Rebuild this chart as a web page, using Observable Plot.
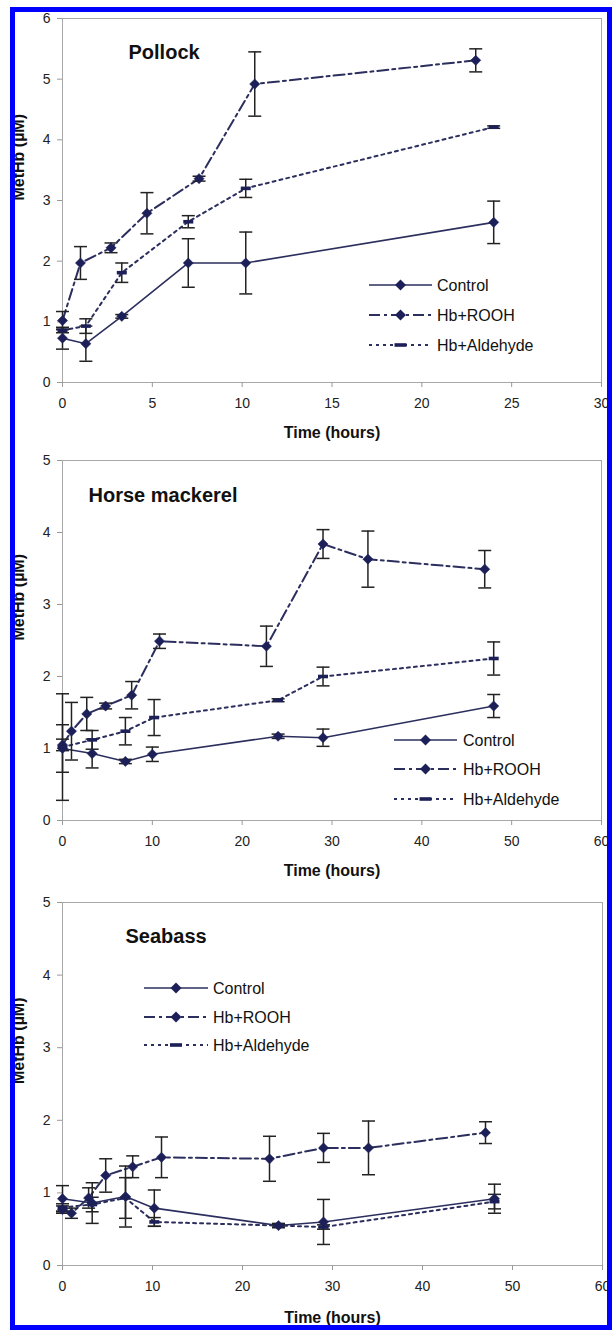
<!DOCTYPE html>
<html><head><meta charset="utf-8">
<script src="https://cdn.jsdelivr.net/npm/d3@7"></script>
<script src="https://cdn.jsdelivr.net/npm/@observablehq/plot@0.6"></script>
<style>
body{margin:0;background:#fff;}
#page{position:relative;width:612px;height:1330px;overflow:hidden;background:#fff;font-family:"Liberation Sans",Arial,sans-serif;}
#page svg{position:absolute;left:0;}
#frame{position:absolute;left:10px;top:7px;width:592px;height:1313px;border:5px solid #0000ff;pointer-events:none;}
</style></head><body><div id="page"></div>
<script>
// ---------- data ----------
const seriesNames = ["Control", "Hb+ROOH", "Hb+Aldehyde"];

const pollockControlT = [0, 1.3, 3.3, 7, 10.2, 24];
const pollockControlV = [0.73, 0.64, 1.09, 1.97, 1.97, 2.64];
const pollockControlE = [0.18, 0.29, 0.03, 0.40, 0.51, 0.35];
const pollockRoohT = [0, 1, 2.7, 4.7, 7.6, 10.7, 23];
const pollockRoohV = [1.02, 1.97, 2.22, 2.79, 3.36, 4.92, 5.31];
const pollockRoohE = [0.15, 0.27, 0.08, 0.34, 0.04, 0.53, 0.19];
const pollockAldT = [0, 1.3, 3.3, 7, 10.2, 24];
const pollockAldV = [0.86, 0.93, 1.81, 2.65, 3.2, 4.21];
const pollockAldE = [0.04, 0.12, 0.16, 0.1, 0.15, 0.02];

const horseControlT = [0, 3.3, 7, 10, 24, 29, 48];
const horseControlV = [1.0, 0.93, 0.82, 0.92, 1.17, 1.15, 1.59];
const horseControlE = [0.33, 0.2, 0.03, 0.1, 0.03, 0.12, 0.16];
const horseRoohT = [0, 1, 2.7, 4.8, 7.7, 10.8, 22.7, 29, 34, 47];
const horseRoohV = [1.05, 1.24, 1.48, 1.59, 1.74, 2.49, 2.42, 3.84, 3.63, 3.49];
const horseRoohE = [0.08, 0.4, 0.23, 0.04, 0.19, 0.1, 0.28, 0.2, 0.39, 0.26];
const horseAldT = [0, 3.3, 7, 10.2, 24, 29, 48];
const horseAldV = [1.02, 1.12, 1.24, 1.43, 1.67, 2.0, 2.25];
const horseAldE = [0.74, 0.13, 0.19, 0.25, 0.02, 0.13, 0.23];

const seabassControlT = [0, 3.3, 7, 10.2, 24, 29, 48];
const seabassControlV = [0.92, 0.86, 0.95, 0.79, 0.55, 0.6, 0.92];
const seabassControlE = [0.18, 0.28, 0.42, 0.25, 0.03, 0.31, 0.2];
const seabassRoohT = [0, 1, 2.9, 4.8, 7.8, 11, 23, 29, 34, 47];
const seabassRoohV = [0.77, 0.72, 0.93, 1.24, 1.36, 1.49, 1.47, 1.62, 1.62, 1.83];
const seabassRoohE = [0.05, 0.07, 0.14, 0.23, 0.15, 0.28, 0.31, 0.2, 0.37, 0.15];
const seabassAldT = [0, 3.3, 7, 10.2, 24, 29, 48];
const seabassAldV = [0.8, 0.84, 0.93, 0.6, 0.55, 0.53, 0.88];
const seabassAldE = [0.05, 0.1, 0.28, 0.06, 0.02, 0.03, 0.1];

const pollockXTicks = [0, 5, 10, 15, 20, 25, 30];
const pollockYTicks = [0, 1, 2, 3, 4, 5, 6];
const longXTicks = [0, 10, 20, 30, 40, 50, 60];
const shortYTicks = [0, 1, 2, 3, 4, 5];
const xTitle = "Time (hours)";
const yTitle = "MetHb (µM)";

// ---------- styles ----------
const NAVY = "#1d2058";
const LINE = "#2c2f5e";
const ERR = "#222222";
const FONT = "'Liberation Sans', Arial, sans-serif";
const dashes = {"Control": null, "Hb+ROOH": "11,4,3,4", "Hb+Aldehyde": "3,4"};

const capSymbol = {draw(ctx) { ctx.moveTo(-6.5, 0); ctx.lineTo(6.5, 0); }};
const barSymbol = {draw(ctx) { ctx.rect(-5, -1.8, 10, 3.6); }};

function rows(T, V, E, s) { return T.map((t, i) => ({t, v: V[i], e: E[i], s})); }

function panel(cfg) {
  const data = [
    ...rows(cfg.c[0], cfg.c[1], cfg.c[2], "Control"),
    ...rows(cfg.r[0], cfg.r[1], cfg.r[2], "Hb+ROOH"),
    ...rows(cfg.a[0], cfg.a[1], cfg.a[2], "Hb+Aldehyde")
  ];
  const marks = [
    Plot.frame({stroke: "#a8a8a8"}),
    Plot.axisX({ticks: cfg.xticks, tickSize: 5, tickPadding: 11, fontSize: 14, stroke: "#999", fill: "#222", tickFormat: d3.format("d"), label: null}),
    Plot.axisY({ticks: cfg.yticks, tickSize: 5, tickPadding: 7, fontSize: 14, stroke: "#999", fill: "#222", tickFormat: d3.format("d"), label: null}),
  ];
  for (const s of seriesNames) {
    marks.push(Plot.line(data.filter(d => d.s === s), {x: "t", y: "v", stroke: LINE,
      strokeWidth: s === "Control" ? 1.6 : 2, strokeDasharray: dashes[s]}));
  }
  marks.push(
    Plot.ruleX(data, {x: "t", y1: d => d.v - d.e, y2: d => d.v + d.e, stroke: ERR, strokeWidth: 1.5}),
    Plot.dot(data, {x: "t", y: d => d.v + d.e, symbol: capSymbol, fill: "none", stroke: ERR, strokeWidth: 1.5}),
    Plot.dot(data, {x: "t", y: d => d.v - d.e, symbol: capSymbol, fill: "none", stroke: ERR, strokeWidth: 1.5}),
    Plot.dot(data.filter(d => d.s !== "Hb+Aldehyde"), {x: "t", y: "v", symbol: "diamond2", r: 4.6, fill: NAVY, stroke: NAVY, strokeWidth: 0.5}),
    Plot.dot(data.filter(d => d.s === "Hb+Aldehyde"), {x: "t", y: "v", symbol: barSymbol, fill: NAVY, stroke: "none"}),
    Plot.text([cfg.title], {frameAnchor: "top-left", dx: cfg.tdx, dy: cfg.tdy, text: d => d, textAnchor: "start",
      fontSize: 20, fontWeight: "bold", fill: "#111"}),
    Plot.text([xTitle], {frameAnchor: "bottom", dy: cfg.xdy, text: d => d, fontSize: 16, fontWeight: "bold", fill: "#111"}),
    Plot.text([yTitle], {frameAnchor: "left", dx: -44, rotate: -90, text: d => d, fontSize: 16, fontWeight: "bold", fill: "#111"})
  );
  const svg = Plot.plot({
    width: 612, height: cfg.height,
    marginLeft: 62, marginRight: cfg.mr, marginTop: cfg.mt, marginBottom: cfg.mb,
    x: {domain: cfg.xdomain, label: null}, y: {domain: cfg.ydomain, label: null},
    style: {background: "transparent", overflow: "visible", fontFamily: FONT},
    marks
  });
  svg.style.top = cfg.top + "px";
  return svg;
}

function legend(lx1, lx2, tx, ys) {
  const svg = d3.create("svg").attr("width", 612).attr("height", 1330)
    .style("top", "0px").style("overflow", "visible");
  seriesNames.forEach((s, i) => {
    const y = ys[i];
    svg.append("line").attr("x1", lx1).attr("x2", lx2).attr("y1", y).attr("y2", y)
      .attr("stroke", LINE).attr("stroke-width", s === "Control" ? 1.6 : 2)
      .attr("stroke-dasharray", dashes[s]);
    const cx = (lx1 + lx2) / 2;
    if (s === "Hb+Aldehyde") {
      svg.append("rect").attr("x", cx - 6).attr("y", y - 1.8).attr("width", 12).attr("height", 3.6).attr("fill", NAVY);
    } else {
      svg.append("path").attr("d", `M${cx},${y-5.5}L${cx+5.5},${y}L${cx},${y+5.5}L${cx-5.5},${y}Z`).attr("fill", NAVY);
    }
    svg.append("text").attr("x", tx).attr("y", y).attr("dy", "0.35em").attr("font-size", 16)
      .attr("font-family", FONT).attr("fill", "#111").text(s);
  });
  return svg.node();
}

const page = document.getElementById("page");
page.append(panel({title: "Pollock", top: 0, height: 450, mt: 18, mb: 68, mr: 11,
  xdomain: [0, 30], ydomain: [0, 6], xticks: pollockXTicks, yticks: pollockYTicks,
  c: [pollockControlT, pollockControlV, pollockControlE],
  r: [pollockRoohT, pollockRoohV, pollockRoohE],
  a: [pollockAldT, pollockAldV, pollockAldE],
  tdx: 66, tdy: 26, xdy: 55}));
page.append(panel({title: "Horse mackerel", top: 440, height: 450, mt: 20, mb: 70, mr: 11,
  xdomain: [0, 60], ydomain: [0, 5], xticks: longXTicks, yticks: shortYTicks,
  c: [horseControlT, horseControlV, horseControlE],
  r: [horseRoohT, horseRoohV, horseRoohE],
  a: [horseAldT, horseAldV, horseAldE],
  tdx: 26, tdy: 27, xdy: 55}));
page.append(panel({title: "Seabass", top: 880, height: 450, mt: 22, mb: 65, mr: 10,
  xdomain: [0, 60], ydomain: [0, 5], xticks: longXTicks, yticks: shortYTicks,
  c: [seabassControlT, seabassControlV, seabassControlE],
  r: [seabassRoohT, seabassRoohV, seabassRoohE],
  a: [seabassAldT, seabassAldV, seabassAldE],
  tdx: 63, tdy: 26, xdy: 57}));
page.append(legend(369, 432, 437, [285, 315, 345]));
page.append(legend(394, 457, 463, [740, 769, 799]));
page.append(legend(144, 208, 213, [988, 1017, 1045]));
const fr = document.createElement("div"); fr.id = "frame"; page.append(fr);
</script></body></html>
